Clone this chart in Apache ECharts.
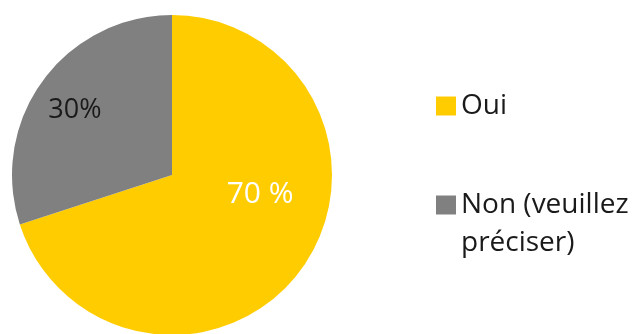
<!DOCTYPE html>
<html>
<head>
<meta charset="utf-8">
<script src="https://cdn.jsdelivr.net/npm/echarts@6/dist/echarts.min.js"></script>
<style>
html,body{margin:0;padding:0;background:#fff;}
#chart{width:634px;height:334px;}
</style>
</head>
<body>
<div id="chart"></div>
<script>
// Survey answers and their shares (percent)
const categories = ['Oui', 'Non (veuillez\npréciser)'];
const values = [70, 30];
const valueLabels = ['70 %', '30%'];
const colors = ['#FFCC00', '#808080'];
const labelColors = ['#ffffff', '#1a1a1a'];
const labelSizes = [30, 27];
// label nudges from the default inner position
const labelShift = [[21, -29], [-30, -16]];

const chart = echarts.init(document.getElementById('chart'), null, { renderer: 'canvas' });

const lineH = 38;
// one legend block per answer; the wrapped entry gets a blank leading
// line so its first line sits level with the swatch
const legendTops = [87, 148];
const legends = categories.map((c, i) => ({
  orient: 'vertical',
  left: 436,
  top: legendTops[i],
  padding: 0,
  itemWidth: 20,
  itemHeight: 19,
  selectedMode: false,
  icon: 'rect',
  formatter: name => (name.indexOf('\n') >= 0 ? '\n' + name : name),
  textStyle: {
    fontFamily: 'Open Sans',
    fontSize: 28,
    color: '#1a1a1a',
    lineHeight: lineH
  },
  data: [c]
}));

chart.setOption({
  animation: false,
  backgroundColor: '#ffffff',
  legend: legends,
  series: [{
    type: 'pie',
    center: [172, 175],
    radius: 160,
    startAngle: 90,
    clockwise: true,
    silent: true,
    label: {
      show: true,
      position: 'inside',
      fontFamily: 'Open Sans',
      formatter: p => valueLabels[p.dataIndex]
    },
    labelLine: { show: false },
    labelLayout: p => ({ dx: labelShift[p.dataIndex][0], dy: labelShift[p.dataIndex][1] }),
    data: categories.map((c, i) => ({
      name: c,
      value: values[i],
      itemStyle: { color: colors[i] },
      label: { color: labelColors[i], fontSize: labelSizes[i] }
    }))
  }]
});
</script>
</body>
</html>
